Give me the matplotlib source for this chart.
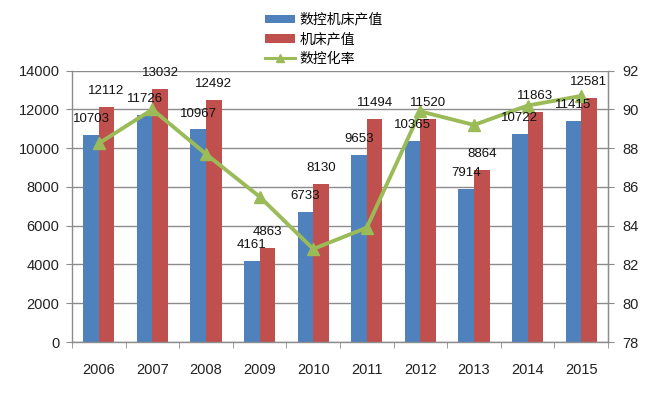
import matplotlib
matplotlib.use("Agg")
import matplotlib.pyplot as plt
import numpy as np
from matplotlib.lines import Line2D
from matplotlib.patches import Patch

years = ["2006", "2007", "2008", "2009", "2010", "2011", "2012", "2013", "2014", "2015"]
nc_output = [10703, 11726, 10967, 4161, 6733, 9653, 10365, 7914, 10722, 11415]
machine_output = [12112, 13032, 12492, 4863, 8130, 11494, 11520, 8864, 11863, 12581]
nc_rate = [88.25, 90.0, 87.7, 85.5, 82.8, 83.9, 89.9, 89.2, 90.2, 90.7]

series_names = ["数控机床产值", "机床产值", "数控化率"]
left_ticks = [0, 2000, 4000, 6000, 8000, 10000, 12000, 14000]
right_ticks = [78, 80, 82, 84, 86, 88, 90, 92]

BLUE = "#4F81BD"
RED = "#C0504D"
GREEN = "#9BBB59"
GRID = "#8C8C8C"

num_font = ["Liberation Sans", "DejaVu Sans"]
cjk_font = ["Noto Sans CJK SC", "DejaVu Sans"]

fig = plt.figure(figsize=(6.57, 3.97), dpi=100)
ax = fig.add_axes([72/657, 1-342/397, (608-72)/657, (342-70.7)/397])

x = np.arange(len(years))
w = 0.29
b1 = ax.bar(x - w/2, nc_output, width=w, color=BLUE, zorder=2)
b2 = ax.bar(x + w/2, machine_output, width=w, color=RED, zorder=2)

ax.set_xlim(-0.5, len(years) - 0.5)
ax.set_ylim(left_ticks[0], left_ticks[-1])
ax.set_yticks(left_ticks)
ax.set_yticklabels([str(t) for t in left_ticks], fontfamily=num_font, fontsize=10.5, color="#222222")
ax.set_xticks(x)
ax.set_xticklabels(years, fontfamily=num_font, fontsize=10.5, color="#222222")
ax.set_xticks(np.arange(len(years) + 1) - 0.5, minor=True)
ax.tick_params(axis="x", which="major", length=0, pad=15)
ax.tick_params(axis="x", which="minor", length=4.5, color=GRID, direction="out")
ax.tick_params(axis="y", length=4, color=GRID, pad=5)

ax.yaxis.grid(True, color=GRID, linewidth=1.0, zorder=0)
ax.set_axisbelow(True)
ax.spines["top"].set_visible(False)
for s in ["left", "bottom", "right"]:
    ax.spines[s].set_color(GRID)
    ax.spines[s].set_linewidth(1.0)

ax2 = ax.twinx()
ax2.plot(x, nc_rate, color=GREEN, linewidth=2.8, marker="^", markersize=8,
         markerfacecolor=GREEN, markeredgecolor=GREEN, zorder=4)
ax2.set_ylim(right_ticks[0], right_ticks[-1])
ax2.set_yticks(right_ticks)
ax2.set_yticklabels([str(t) for t in right_ticks], fontfamily=num_font, fontsize=10.5, color="#222222")
ax2.tick_params(axis="y", length=4, color=GRID, pad=6)
for s in ["top", "left", "bottom"]:
    ax2.spines[s].set_visible(False)
ax2.spines["right"].set_color(GRID)

# data labels drawn on the top axes so they sit above the line
for bars, vals in ((b1, nc_output), (b2, machine_output)):
    for r, v in zip(bars, vals):
        ax2.annotate(str(v), (r.get_x() + r.get_width()/2, v), xycoords=ax.transData,
                     xytext=(0, 11.5), textcoords="offset points", ha="center", va="center",
                     fontsize=9.5, fontfamily=num_font, color="#111111", zorder=6)

handles = [Patch(facecolor=BLUE, edgecolor="none"),
           Patch(facecolor=RED, edgecolor="none"),
           Line2D([0], [0], color=GREEN, linewidth=2.2, marker="^", markersize=6)]
leg = fig.legend(handles, series_names, loc="upper left",
                 bbox_to_anchor=(255/657, 1 - 3/397), frameon=False,
                 prop={"family": cjk_font, "size": 10}, handlelength=2.2,
                 handleheight=0.55, labelspacing=0.4, handletextpad=0.3,
                 borderpad=0.2)

fig.savefig("out.png", dpi=100, facecolor="white")
